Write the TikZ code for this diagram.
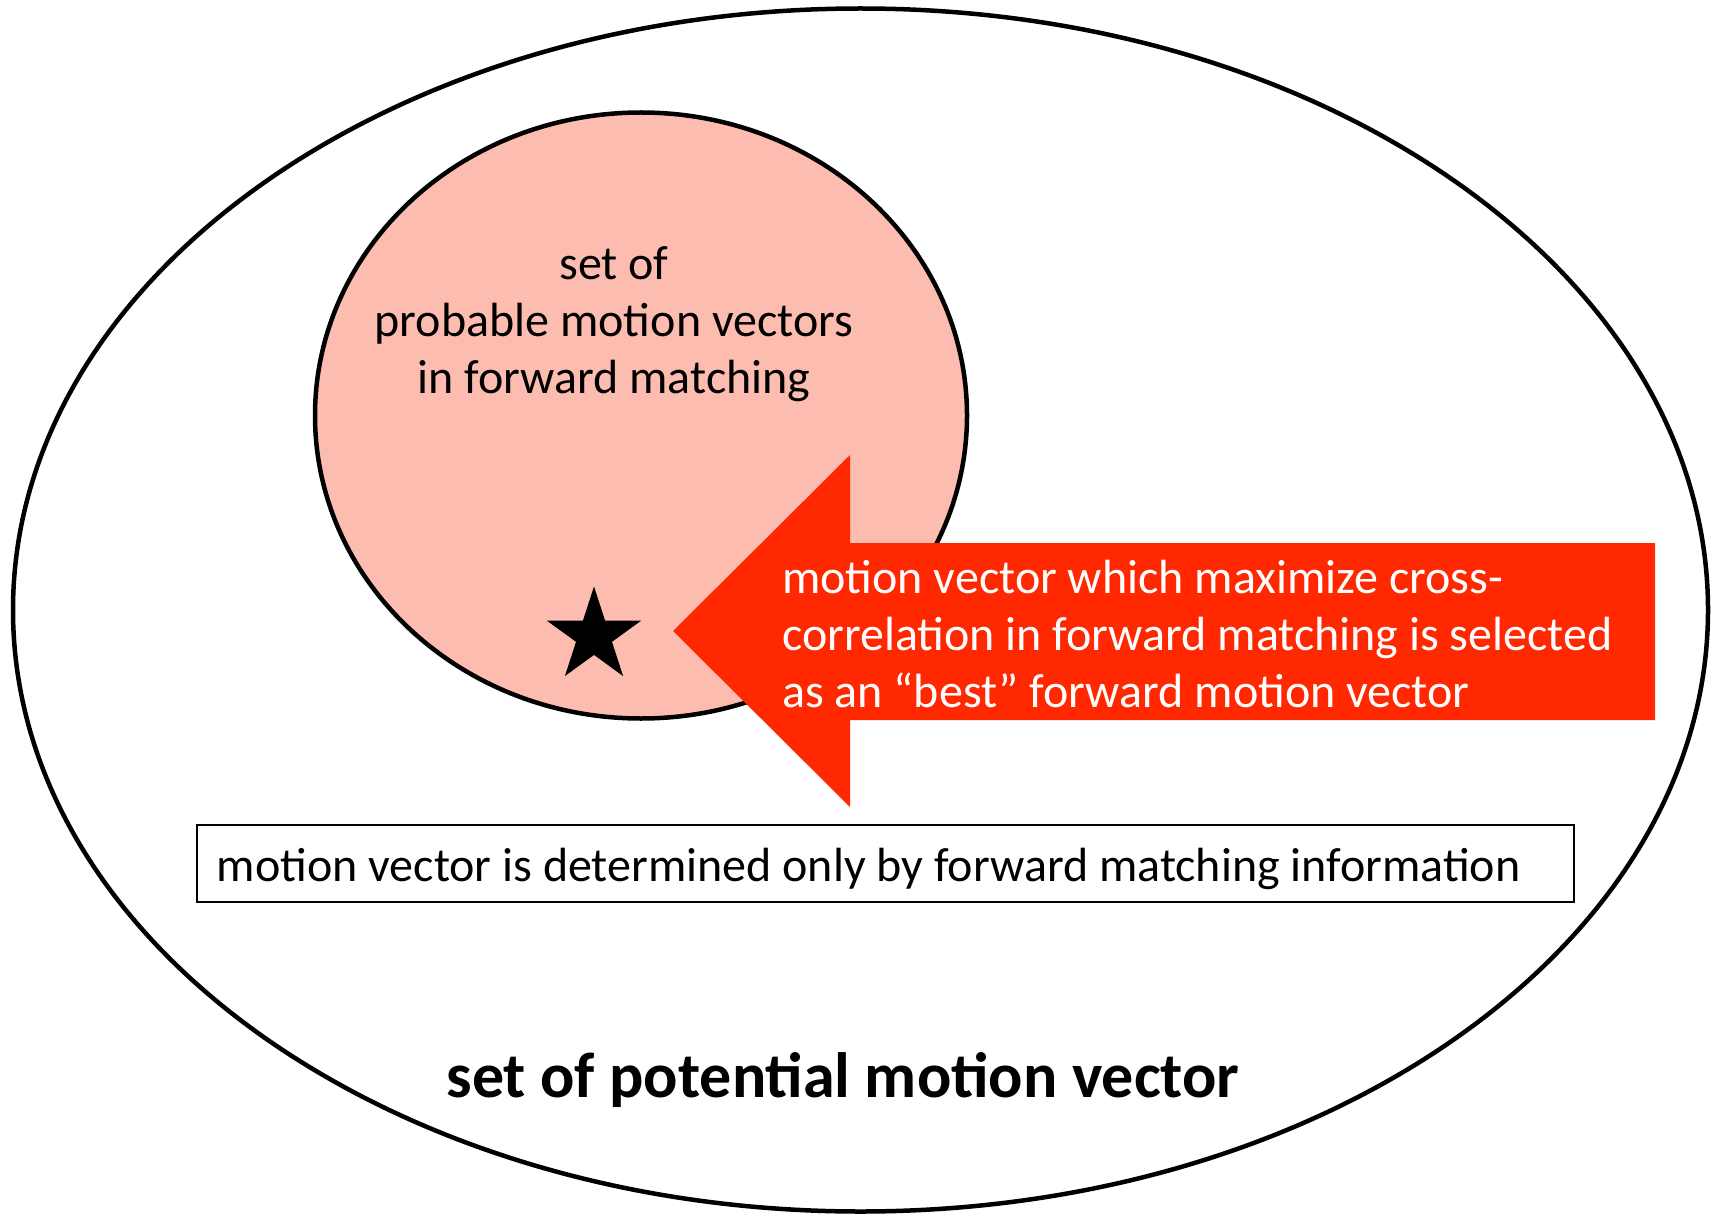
\documentclass[tikz,border=0pt]{standalone}
\usepackage{fontspec}
\setmainfont{Carlito}
\usetikzlibrary{shapes.geometric}
\definecolor{arrowred}{RGB}{255,40,0}
\definecolor{setpink}{RGB}{252,188,176}
\tikzset{
  setshape/.style={draw=black, ellipse, inner sep=0pt, line width=4.5pt},
  normaltext/.style={inner sep=0pt, font=\fontsize{48}{57}\selectfont},
  boldtext/.style={inner sep=0pt, font=\fontsize{64}{70}\selectfont\bfseries},
}
\begin{document}
\begin{tikzpicture}[x=1pt,y=-1pt]
\useasboundingbox (0,0) rectangle (1715,1214);
% outer set
\node[setshape, minimum width=1695pt, minimum height=1203pt] (outer) at (860.5,610) {};
% inner set
\node[setshape, fill=setpink, minimum width=652pt, minimum height=606pt] (inner) at (641,415.5) {};
\node[normaltext, align=center, anchor=base] (innerlabel) at (614,393.5)
  {set of\\probable motion vectors\\in forward matching};
% arrow
\fill[arrowred] (673,631) -- (850,455) -- (850,543) -- (1655,543) -- (1655,720)
  -- (850,720) -- (850,807) -- cycle;
\node[normaltext, text=white, align=left, anchor=base west] (arrowlabel) at (782,707.5)
  {motion vector which maximize cross-\\correlation in forward matching is selected\\as an “best” forward motion vector};
% star
\node[star, star points=5, star point ratio=2.618, minimum size=99pt, fill=black, inner sep=0pt] (best) at (594,636) {};
% box
\node[draw=black, line width=2pt, minimum width=1377pt, minimum height=77pt, inner sep=0pt] (infobox) at (885,863.5) {};
\node[normaltext, anchor=base west] (infotext) at (216.6,881.7)
  {motion vector is determined only by forward matching information};
% title
\node[boldtext, anchor=base] (title) at (843,1097) {set of potential motion vector};
\end{tikzpicture}
\end{document}
